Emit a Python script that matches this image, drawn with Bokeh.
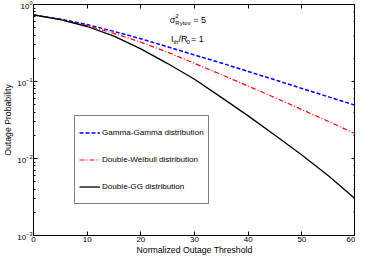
from bokeh.plotting import figure
from bokeh.models import (LogAxis, LinearAxis, Legend, LegendItem, Label,
                          FixedTicker, LogTicker, CustomJSTickFormatter)
from bokeh.embed import file_html
from bokeh.resources import INLINE

# ---- data ----
threshold = [0, 5, 10, 15, 20, 25, 30, 35, 40, 45, 50, 55, 60]
gamma_gamma = [0.731, 0.646, 0.550, 0.447, 0.359, 0.282, 0.221, 0.174,
               0.135, 0.105, 0.0813, 0.0631, 0.0490]
double_weibull = [0.731, 0.638, 0.531, 0.422, 0.324, 0.240, 0.172, 0.123,
                  0.0871, 0.0617, 0.0432, 0.0302, 0.0209]
double_gg = [0.731, 0.637, 0.518, 0.388, 0.265, 0.171, 0.107, 0.0622,
             0.0358, 0.0201, 0.01107, 0.00594, 0.00298]
x_ticks = [0, 10, 20, 30, 40, 50, 60]
series_labels = ["Gamma-Gamma distribution", "Double-Weibull distribution",
                 "Double-GG distribution"]

FONT = "Liberation Sans"

p = figure(width=355, height=257, x_range=(0, 60), y_range=(1e-3, 1),
           y_axis_type="log", output_backend="svg", toolbar_location=None,
           min_border_left=0, min_border_right=0, min_border_top=4,
           min_border_bottom=0)
p.xgrid.visible = False
p.ygrid.visible = False
p.outline_line_color = "black"
p.background_fill_color = "white"
p.border_fill_color = "white"

r1 = p.line(threshold, gamma_gamma, line_color="#0000ff", line_dash="4 2",
            line_width=1.5)
r2 = p.line(threshold, double_weibull, line_color="#ff0000",
            line_dash="5 2 1 2", line_width=1.2)
r3 = p.line(threshold, double_gg, line_color="black", line_width=1.3)


def style_axis(ax):
    ax.major_tick_in = 4
    ax.major_tick_out = 0
    ax.minor_tick_in = 2
    ax.minor_tick_out = 0
    ax.axis_line_color = "black"
    ax.major_tick_line_color = "black"
    ax.minor_tick_line_color = "black"
    ax.major_label_text_font = FONT
    ax.major_label_text_font_size = "8px"
    ax.major_label_text_color = "black"
    ax.axis_label_text_font = FONT
    ax.axis_label_text_font_size = "8.7px"
    ax.axis_label_text_font_style = "normal"
    ax.axis_label_text_color = "black"
    ax.major_label_standoff = 1
    ax.axis_label_standoff = 1


xa = p.xaxis[0]
xa.ticker = FixedTicker(ticks=x_ticks)
xa.axis_label = "Normalized Outage Threshold"
style_axis(xa)
xa.minor_tick_line_color = None
xa.axis_label_standoff = 0

ya = p.yaxis[0]
ya.axis_label = "Outage Probability"
style_axis(ya)

right = LogAxis(ticker=LogTicker(), formatter=CustomJSTickFormatter(code="return ''"))
style_axis(right)
right.major_label_standoff = 0
right.major_label_text_font_size = "0px"
p.add_layout(right, "right")

top = LinearAxis(ticker=FixedTicker(ticks=x_ticks),
                 formatter=CustomJSTickFormatter(code="return ''"))
style_axis(top)
top.minor_tick_line_color = None
top.major_label_standoff = 0
top.major_label_text_font_size = "0px"
p.add_layout(top, "above")

legend = Legend(items=[LegendItem(label=series_labels[0], renderers=[r1]),
                       LegendItem(label=series_labels[1], renderers=[r2]),
                       LegendItem(label=series_labels[2], renderers=[r3])],
                location=(41, 31))
legend.border_line_color = "black"
legend.border_line_width = 1
legend.background_fill_color = "white"
legend.background_fill_alpha = 1
legend.label_text_font = FONT
legend.label_text_font_size = "8.1px"
legend.label_text_color = "black"
legend.glyph_width = 21
legend.glyph_height = 25
legend.label_height = 25
legend.label_standoff = 2
legend.padding = 4
legend.spacing = 2
legend.margin = 0
p.add_layout(legend, "center")

# annotations
ax1, ay1 = 25.4, 0.634
p.add_layout(Label(x=ax1, y=ay1, text="σ", text_font=FONT, text_font_size="9px",
                   text_baseline="middle", text_color="black"))
p.add_layout(Label(x=ax1, y=ay1, x_offset=5.5, y_offset=4, text="2", text_font=FONT,
                   text_font_size="6px", text_baseline="middle", text_color="black"))
p.add_layout(Label(x=ax1, y=ay1, x_offset=5.5, y_offset=-3, text="Rytov", text_font=FONT,
                   text_font_size="6px", text_baseline="middle", text_color="black"))
p.add_layout(Label(x=ax1, y=ay1, x_offset=23.5, text="= 5", text_font=FONT,
                   text_font_size="9px", text_baseline="middle", text_color="black"))

ax2, ay2 = 25.6, 0.36
p.add_layout(Label(x=ax2, y=ay2, text="I", text_font=FONT, text_font_size="9px",
                   text_baseline="middle", text_color="black"))
p.add_layout(Label(x=ax2, y=ay2, x_offset=2.5, y_offset=-3, text="th", text_font=FONT,
                   text_font_size="6px", text_baseline="middle", text_color="black"))
p.add_layout(Label(x=ax2, y=ay2, x_offset=7.5, text="/R", text_font=FONT,
                   text_font_size="9px", text_baseline="middle", text_color="black"))
p.add_layout(Label(x=ax2, y=ay2, x_offset=15.5, y_offset=-3, text="0", text_font=FONT,
                   text_font_size="6px", text_baseline="middle", text_color="black"))
p.add_layout(Label(x=ax2, y=ay2, x_offset=20, text="= 1", text_font=FONT,
                   text_font_size="9px", text_baseline="middle", text_color="black"))

open("out.html", "w").write(file_html(p, INLINE))
